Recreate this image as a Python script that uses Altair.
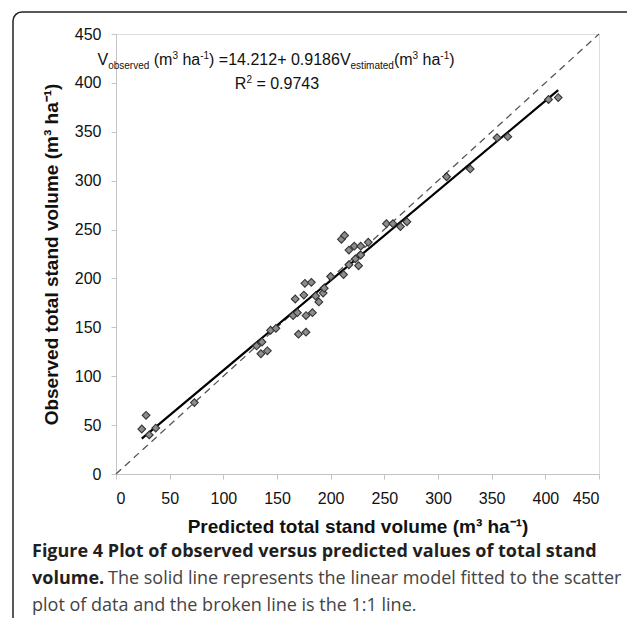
import altair as alt
import pandas as pd

# ---- data ----
predicted = [24, 28, 31, 37, 73, 131, 136, 135, 141, 144, 149, 165, 169, 170, 177, 177, 183,
             167, 175, 176, 182, 186, 189, 193, 194, 200, 210, 213, 212, 217, 217, 222, 223,
             226, 228, 228, 235, 252, 258, 265, 271, 308, 330, 355, 365, 403, 412]
observed = [46, 60, 40, 47, 73, 131, 135, 123, 126, 147, 149, 162, 165, 143, 145, 162, 165,
            179, 183, 195, 196, 182, 176, 185, 190, 202, 240, 244, 204, 214, 229, 233, 220,
            213, 224, 233, 237, 256, 256, 253, 258, 304, 312, 344, 345, 383, 385]
intercept = 14.212
slope = 0.9186
fit_range = [24, 412]
one_to_one = [0, 450]
ticks = [0, 50, 100, 150, 200, 250, 300, 350, 400, 450]

W, H = 483, 440
PAD = {"left": 108, "top": 26, "right": 28, "bottom": 144}

pts = pd.DataFrame({"predicted": predicted, "observed": observed})
fit = pd.DataFrame({"predicted": fit_range,
                    "observed": [intercept + slope * v for v in fit_range]})
diag = pd.DataFrame({"predicted": one_to_one, "observed": one_to_one})

xs = alt.Scale(domain=[0, 450], nice=False)
ys = alt.Scale(domain=[0, 450], nice=False)

xaxis = alt.Axis(values=ticks, grid=False, domainColor="#c4c4c4", tickColor="#c4c4c4",
                 tickSize=5, labelFont="Liberation Sans", labelFontSize=16,
                 labelColor="#111111", labelPadding=11,
                 title="Predicted total stand volume (m³ ha⁻¹)",
                 titleFont="Liberation Sans", titleFontSize=19, titleFontWeight="bold",
                 titleColor="#111111", titleY=58, titleBaseline="alphabetic",
                 titleX=W / 2, titleAlign="center")
yaxis = alt.Axis(values=ticks, grid=False, domainColor="#c4c4c4", tickColor="#c4c4c4",
                 tickSize=5, labelFont="Liberation Sans", labelFontSize=16,
                 labelColor="#111111", labelPadding=10,
                 title="Observed total stand volume (m³ ha⁻¹)",
                 titleFont="Liberation Sans", titleFontSize=19, titleFontWeight="bold",
                 titleColor="#111111", titleX=-59, titleY=H / 2, titleAngle=270,
                 titleAlign="center", titleBaseline="alphabetic")

points = alt.Chart(pts).mark_point(
    shape="diamond", filled=True, size=60, fill="#8c8c8c", stroke="#333333",
    strokeWidth=1.1, opacity=1
).encode(
    x=alt.X("predicted:Q", scale=xs, axis=xaxis),
    y=alt.Y("observed:Q", scale=ys, axis=yaxis),
)

diag_line = alt.Chart(diag).mark_line(
    color="#555555", strokeWidth=1.3, strokeDash=[7, 5]
).encode(x=alt.X("predicted:Q", scale=xs), y=alt.Y("observed:Q", scale=ys))

fit_line = alt.Chart(fit).mark_line(color="#000000", strokeWidth=2.2).encode(
    x=alt.X("predicted:Q", scale=xs), y=alt.Y("observed:Q", scale=ys))

one = pd.DataFrame({"k": [0]})

# Arial / Liberation Sans advance widths (per 1000 em)
AW = {' ': 278, '(': 333, ')': 333, '+': 584, '-': 333, '.': 278, '=': 584,
      'R': 722, 'V': 667, 'a': 556, 'b': 556, 'd': 556, 'e': 556, 'h': 556, 'i': 222,
      'm': 833, 'o': 556, 'r': 333, 's': 500, 't': 278, 'v': 500}
for c in "0123456789":
    AW[c] = 556


def tw(s, size):
    return sum(AW.get(c, 556) for c in s) * size / 1000.0


def txt(s, x, y, size, weight="normal", color="#111111", font="Liberation Sans"):
    return alt.Chart(one).mark_text(
        text=s, align="left", baseline="alphabetic", font=font,
        fontSize=size, fontWeight=weight, color=color
    ).encode(x=alt.value(x), y=alt.value(y))


MAIN, SMALL = 16, 10
OFF = {"main": 0, "sub": 4, "sup": -6}


def rich(pieces, x0, base):
    layers = []
    x = x0
    for s, kind in pieces:
        size = MAIN if kind == "main" else SMALL
        lead = len(s) - len(s.lstrip(" "))
        x += tw(" " * lead, size)
        body = s.lstrip(" ")
        trail = len(body) - len(body.rstrip(" "))
        body = body.rstrip(" ")
        layers.append(txt(body, x, base + OFF[kind], size))
        x += tw(body, size) + tw(" " * trail, size)
    return layers, x - x0


eq_pieces = [("V", "main"), ("observed", "sub"), (" (m", "main"), ("3", "sup"),
             (" ha", "main"), ("-1", "sup"), (") =14.212+ 0.9186V", "main"),
             ("estimated", "sub"), ("(m", "main"), ("3", "sup"), (" ha", "main"),
             ("-1", "sup"), (")", "main")]
eq_layers, _ = rich(eq_pieces, -18.5, 30.5)

r2_pieces = [("R", "main"), ("2", "sup"), (" = 0.9743", "main")]
_, r2w = rich(r2_pieces, 0, 0)
r2_layers, _ = rich(r2_pieces, 161 - r2w / 2, 55)

# caption
CF = "Open Sans"
CS = 18
cx = 32 - 116
cap = [
    txt("Figure 4 Plot of observed versus predicted values of total stand", cx, 557 - 34, CS,
        "bold", "#231f20", CF),
    txt("volume.", cx, 584 - 34, CS, "bold", "#231f20", CF),
    txt("The solid line represents the linear model fitted to the scatter", cx + 76, 584 - 34,
        CS, "normal", "#444444", CF),
    txt("plot of data and the broken line is the 1:1 line.", cx, 611 - 34, CS, "normal",
        "#444444", CF),
]

frame = alt.Chart(one).mark_rect(
    fillOpacity=0, stroke="#222222", strokeWidth=1.5, cornerRadius=9
).encode(x=alt.value(13 - 116), x2=alt.value(700), y=alt.value(12 - 34), y2=alt.value(800))

chart = alt.layer(
    frame, diag_line, fit_line, points, *eq_layers, *r2_layers, *cap
).properties(
    width=W, height=H, padding=PAD,
    autosize=alt.AutoSizeParams(type="none"),
).configure_view(stroke=None).configure(background="white")

chart.save("out.html", embed_options={"renderer": "svg", "actions": False})
